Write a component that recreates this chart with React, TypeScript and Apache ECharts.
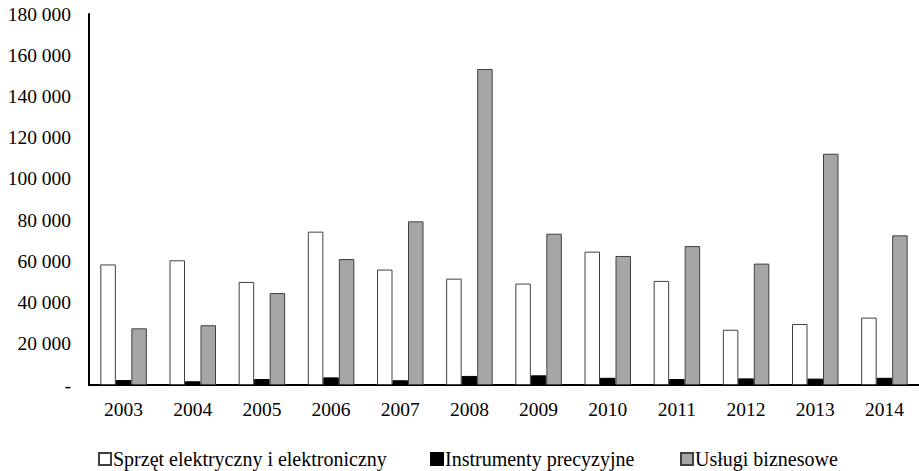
import React, { useEffect, useRef } from "react";
import * as echarts from "echarts";

const years = ["2003", "2004", "2005", "2006", "2007", "2008", "2009", "2010", "2011", "2012", "2013", "2014"];
const electrical = [58500, 60500, 50000, 74400, 56000, 51600, 49200, 64700, 50500, 26800, 29600, 32700];
const precision = [2400, 1800, 2900, 3700, 2300, 4400, 4700, 3500, 2900, 3200, 3100, 3500];
const business = [27500, 29000, 44600, 61100, 79400, 153300, 73400, 62600, 67400, 58900, 112200, 72600];

const seriesNames = ["Sprzęt elektryczny i elektroniczny", "Instrumenty precyzyjne", "Usługi biznesowe"];

const FONT = "'Liberation Serif', 'DejaVu Serif', serif";
const AXIS_FONT_SIZE = 19.5;
const LEGEND_FONT_SIZE = 20;

function formatThousands(v: number): string {
  if (v === 0) return "-";
  return String(v).replace(/\B(?=(\d{3})+(?!\d))/g, " ");
}

export default function App() {
  const ref = useRef<HTMLDivElement>(null);

  useEffect(() => {
    if (!ref.current) return;
    const chart = echarts.init(ref.current, null, { renderer: "svg" });
    const legendBase = {
      top: 444,
      itemWidth: 12,
      itemHeight: 12,
      itemGap: 0,
      icon: "rect",
      textStyle: { fontFamily: FONT, fontSize: LEGEND_FONT_SIZE, color: "#000", padding: [0, 0, 0, -3] },
    };
    chart.setOption({
      animation: false,
      backgroundColor: "#fff",
      textStyle: { fontFamily: FONT, fontSize: AXIS_FONT_SIZE, color: "#000" },
      grid: { left: 89, top: 14, bottom: 86, width: 835 },
      legend: [
        { ...legendBase, left: 93, data: [seriesNames[0]] },
        { ...legendBase, left: 425, data: [seriesNames[1]] },
        { ...legendBase, left: 675, data: [seriesNames[2]] },
      ],
      xAxis: {
        type: "category",
        data: years,
        axisLine: { lineStyle: { color: "#000", width: 2 } },
        axisTick: { show: false },
        axisLabel: { fontFamily: FONT, fontSize: AXIS_FONT_SIZE, color: "#000", margin: 14 },
      },
      yAxis: {
        type: "value",
        min: 0,
        max: 180000,
        interval: 20000,
        axisLine: { show: true, lineStyle: { color: "#000", width: 2 } },
        axisTick: { show: false },
        splitLine: { show: false },
        axisLabel: {
          fontFamily: FONT,
          fontSize: AXIS_FONT_SIZE,
          color: "#000",
          margin: 18,
          formatter: (v: number) => formatThousands(v),
        },
      },
      series: [
        {
          name: seriesNames[0],
          type: "bar",
          data: electrical,
          barWidth: 15.5,
          barGap: "0%",
          itemStyle: { color: "#ffffff", borderColor: "#404040", borderWidth: 1 },
        },
        {
          name: seriesNames[1],
          type: "bar",
          data: precision,
          barWidth: 15.5,
          barGap: "0%",
          itemStyle: { color: "#000000", borderColor: "#000000", borderWidth: 1 },
        },
        {
          name: seriesNames[2],
          type: "bar",
          data: business,
          barWidth: 15.5,
          barGap: "0%",
          itemStyle: { color: "#a6a6a6", borderColor: "#404040", borderWidth: 1 },
        },
      ],
    });
    return () => chart.dispose();
  }, []);

  return (
    <div
      ref={ref}
      style={{ position: "fixed", left: 0, top: 0, width: 919, height: 471, background: "#fff" }}
    />
  );
}
